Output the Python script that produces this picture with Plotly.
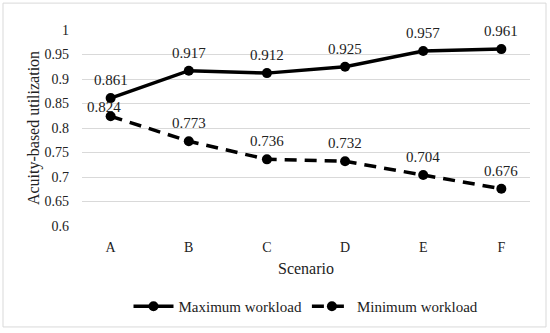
import plotly.graph_objects as go

scenarios = ["A", "B", "C", "D", "E", "F"]
max_workload = [0.861, 0.917, 0.912, 0.925, 0.957, 0.961]
min_workload = [0.824, 0.773, 0.736, 0.732, 0.704, 0.676]
y_ticks = [0.6, 0.65, 0.7, 0.75, 0.8, 0.85, 0.9, 0.95, 1.0]
y_tick_text = ["0.6", "0.65", "0.7", "0.75", "0.8", "0.85", "0.9", "0.95", "1"]

FONT = "Liberation Serif"
TXT = "#222"

fig = go.Figure()
fig.add_trace(go.Scatter(
    x=scenarios, y=max_workload, name="Maximum workload",
    mode="lines+markers",
    line=dict(color="black", width=3.5),
    marker=dict(color="black", size=10),
    cliponaxis=False,
))
fig.add_trace(go.Scatter(
    x=scenarios, y=min_workload, name="Minimum workload",
    mode="lines+markers",
    line=dict(color="black", width=3.5, dash="12px,8px"),
    marker=dict(color="black", size=10),
    cliponaxis=False,
))

annotations = []
for series, key in ((max_workload, "max"), (min_workload, "min")):
    for i, (cat, v) in enumerate(zip(scenarios, series)):
        xs, ys = 0, 18
        if key == "min" and i == 0:
            xs, ys = -7, 9
        annotations.append(dict(x=cat, y=v, text=f"{v:.3f}", showarrow=False,
                                xshift=xs, yshift=ys,
                                font=dict(family=FONT, size=15, color=TXT)))

L, R, T, B = 82, 530, 30, 226.7
W, H = 550, 333
pw, ph = R - L, B - T
def px(x): return (x - L) / pw
def py(y): return (B - y) / ph

fig.update_layout(
    width=W, height=H,
    margin=dict(l=L, r=W - R, t=T, b=H - B),
    paper_bgcolor="white", plot_bgcolor="white",
    font=dict(family=FONT, size=14, color=TXT),
    showlegend=True,
    annotations=annotations,
    legend=dict(orientation="h", x=0.5, xanchor="center", y=py(306), yanchor="middle",
                font=dict(family=FONT, size=15, color=TXT), itemwidth=40),
    xaxis=dict(showgrid=False, showline=False, ticks="", zeroline=False, automargin=False,
               ticklabelstandoff=11,
               title=dict(text="Scenario", font=dict(family=FONT, size=16), standoff=8),
               tickfont=dict(family=FONT, size=14)),
    yaxis=dict(range=[0.6, 1.0], tickvals=y_ticks, ticktext=y_tick_text, automargin=False,
               showgrid=True, gridcolor="#d9d9d9", gridwidth=1, zeroline=False,
               showline=False, ticks="", ticklabelstandoff=12,
               title=dict(text="Acuity-based utilization", font=dict(family=FONT, size=16), standoff=0),
               tickfont=dict(family=FONT, size=14)),
    shapes=[dict(type="rect", xref="paper", yref="paper",
                 x0=px(3), x1=px(546), y0=py(328), y1=py(3),
                 line=dict(color="#d9d9d9", width=1), fillcolor="rgba(0,0,0,0)", layer="below")],
)

fig.write_html("out.html", config={"displayModeBar": False},
               post_script="document.body.style.margin='0';")
